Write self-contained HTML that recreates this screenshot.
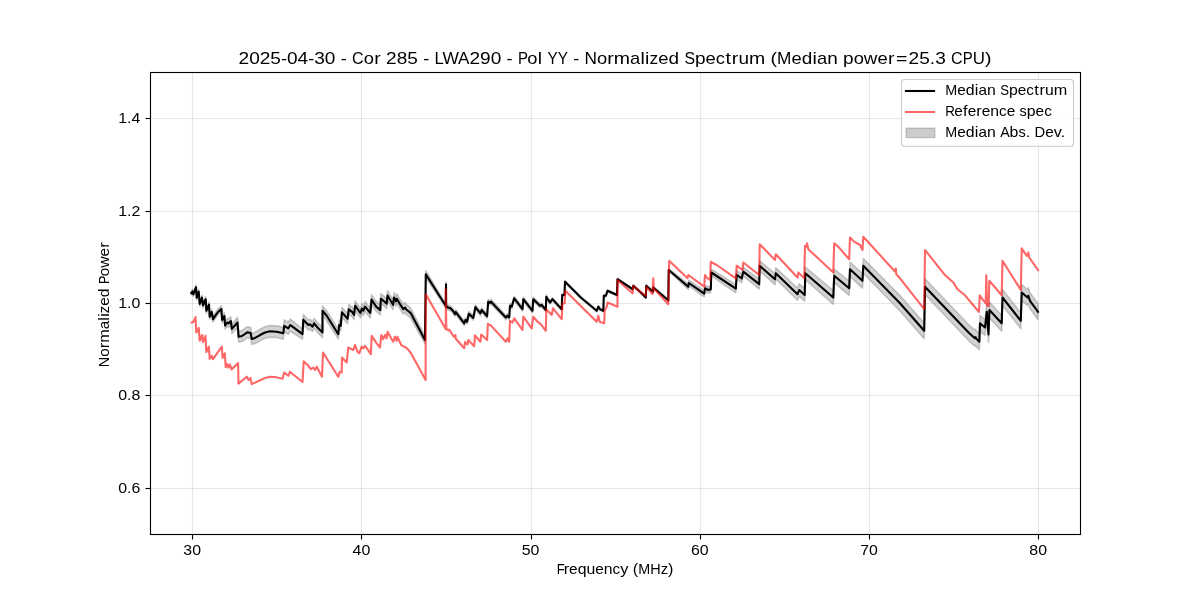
<!DOCTYPE html><html><head><meta charset="utf-8"><style>html,body{margin:0;padding:0;background:#fff;width:1200px;height:600px;overflow:hidden}svg{display:block;will-change:transform}</style></head><body><svg width="1200" height="600" viewBox="0 0 1200 600">
<rect width="1200" height="600" fill="#fff"/>
<line x1="192.50" y1="72.0" x2="192.50" y2="534.0" stroke="#b0b0b0" stroke-opacity="0.3" stroke-width="1.1"/>
<line x1="361.50" y1="72.0" x2="361.50" y2="534.0" stroke="#b0b0b0" stroke-opacity="0.3" stroke-width="1.1"/>
<line x1="531.50" y1="72.0" x2="531.50" y2="534.0" stroke="#b0b0b0" stroke-opacity="0.3" stroke-width="1.1"/>
<line x1="700.50" y1="72.0" x2="700.50" y2="534.0" stroke="#b0b0b0" stroke-opacity="0.3" stroke-width="1.1"/>
<line x1="869.50" y1="72.0" x2="869.50" y2="534.0" stroke="#b0b0b0" stroke-opacity="0.3" stroke-width="1.1"/>
<line x1="1038.50" y1="72.0" x2="1038.50" y2="534.0" stroke="#b0b0b0" stroke-opacity="0.3" stroke-width="1.1"/>
<line x1="150.0" y1="488.50" x2="1080.0" y2="488.50" stroke="#b0b0b0" stroke-opacity="0.3" stroke-width="1.1"/>
<line x1="150.0" y1="395.50" x2="1080.0" y2="395.50" stroke="#b0b0b0" stroke-opacity="0.3" stroke-width="1.1"/>
<line x1="150.0" y1="303.50" x2="1080.0" y2="303.50" stroke="#b0b0b0" stroke-opacity="0.3" stroke-width="1.1"/>
<line x1="150.0" y1="211.50" x2="1080.0" y2="211.50" stroke="#b0b0b0" stroke-opacity="0.3" stroke-width="1.1"/>
<line x1="150.0" y1="118.50" x2="1080.0" y2="118.50" stroke="#b0b0b0" stroke-opacity="0.3" stroke-width="1.1"/>
<path d="M191.3 291.0 L192.7 289.2 L193.3 292.2 L196.0 285.1 L196.7 295.4 L198.7 289.4 L199.7 301.7 L202.0 295.3 L203.0 302.9 L205.7 296.8 L206.3 308.1 L209.0 302.0 L209.7 314.0 L211.7 309.3 L213.0 316.6 L215.0 313.3 L218.0 309.1 L221.4 305.8 L222.1 316.6 L224.4 312.6 L225.1 321.9 L227.4 318.6 L228.9 319.1 L230.8 316.7 L231.9 324.4 L237.5 317.3 L238.6 331.4 L242.0 330.5 L247.3 326.7 L250.6 327.4 L251.8 333.4 L255.0 332.2 L259.7 329.6 L260.0 329.3 L265.0 326.8 L270.0 325.5 L276.7 325.8 L283.3 327.4 L284.2 319.9 L288.3 322.3 L290.3 319.0 L292.5 320.8 L302.5 329.0 L303.3 314.6 L308.3 320.0 L310.0 319.2 L312.5 321.7 L314.2 318.4 L317.5 322.6 L322.5 327.6 L322.5 305.9 L326.7 311.0 L338.3 329.4 L339.2 320.2 L340.8 321.0 L341.2 315.2 L342.0 307.6 L347.6 314.0 L348.8 304.4 L352.3 307.3 L354.0 309.9 L355.2 300.9 L360.4 308.2 L361.9 303.8 L363.3 305.8 L365.1 301.7 L370.3 308.1 L371.5 294.7 L376.2 301.7 L380.3 305.2 L380.8 293.8 L383.5 295.8 L386.7 298.8 L387.5 290.6 L393.1 299.9 L394.0 292.6 L396.0 296.4 L396.9 293.8 L400.0 299.2 L403.3 304.2 L405.0 302.5 L406.7 305.0 L409.2 306.7 L410.8 308.4 L425.0 336.2 L425.8 270.6 L440.0 294.2 L445.8 303.4 L446.0 281.7 L446.2 304.2 L450.4 305.9 L453.3 308.9 L455.0 311.8 L455.8 309.7 L464.2 321.0 L465.4 317.7 L467.1 319.3 L468.8 311.4 L473.3 315.6 L475.4 304.8 L480.4 311.1 L481.7 307.7 L487.1 314.0 L488.2 299.4 L490.0 300.7 L491.0 299.4 L505.8 315.3 L507.5 313.7 L509.2 315.4 L510.0 303.7 L511.7 304.5 L514.2 296.2 L522.5 307.1 L523.3 297.1 L532.5 308.8 L533.3 297.1 L540.0 303.8 L541.7 303.1 L545.8 308.3 L546.3 295.0 L546.7 295.8 L550.0 301.0 L552.5 297.8 L561.7 308.2 L562.2 294.0 L564.5 294.0 L565.0 280.7 L580.8 296.5 L596.7 309.8 L598.3 305.7 L600.0 308.2 L603.3 309.8 L603.8 294.8 L605.8 294.8 L607.5 289.8 L617.0 294.0 L617.5 278.2 L632.5 288.2 L633.3 284.8 L640.0 290.7 L645.8 296.5 L646.3 284.8 L653.0 290.7 L653.3 286.5 L668.3 299.3 L668.7 269.0 L688.3 283.9 L688.8 280.2 L704.2 290.6 L705.0 285.2 L708.3 286.8 L710.8 285.9 L711.3 269.2 L735.8 284.6 L736.7 270.5 L737.0 270.9 L741.7 274.0 L743.3 267.3 L759.2 279.2 L759.7 260.8 L775.0 273.7 L775.8 267.8 L797.5 288.0 L799.2 283.8 L804.7 288.7 L805.3 267.0 L833.3 290.7 L834.2 269.0 L849.2 281.2 L850.0 262.0 L862.5 273.5 L863.3 258.5 L900.0 295.6 L924.2 323.0 L925.0 278.8 L968.8 324.8 L974.8 330.2 L975.5 329.1 L976.4 330.8 L979.3 333.8 L980.0 315.4 L985.0 319.5 L986.8 303.8 L988.5 326.5 L989.4 302.0 L1001.7 315.3 L1002.5 289.5 L1020.8 312.8 L1021.7 284.5 L1027.5 289.5 L1028.3 287.8 L1030.0 292.8 L1038.0 303.7 L1038.0 319.7 L1030.0 308.8 L1028.3 303.8 L1027.5 305.5 L1021.7 300.5 L1020.8 328.8 L1002.5 305.5 L1001.7 331.3 L989.4 318.0 L988.5 342.5 L986.8 319.8 L985.0 335.5 L980.0 331.4 L979.3 349.8 L976.4 346.8 L975.5 345.1 L974.8 346.2 L968.8 340.8 L925.0 294.5 L924.2 338.7 L900.0 311.0 L863.3 273.2 L862.5 288.2 L850.0 276.3 L849.2 295.4 L834.2 282.7 L833.3 304.3 L805.3 279.6 L804.7 301.3 L799.2 296.2 L797.5 300.3 L775.8 278.9 L775.0 284.7 L759.7 270.8 L759.2 289.1 L743.3 276.0 L741.7 282.6 L737.0 279.1 L736.7 278.8 L735.8 292.8 L711.3 275.8 L710.8 292.4 L708.3 293.2 L705.0 291.5 L704.2 296.8 L688.8 285.8 L688.3 289.5 L668.7 271.0 L668.3 301.3 L653.3 288.5 L653.0 292.7 L646.3 286.8 L645.8 298.5 L640.0 292.7 L633.3 286.8 L632.5 290.2 L617.5 280.2 L617.0 296.0 L607.5 291.8 L605.8 296.8 L603.8 296.8 L603.3 311.8 L600.0 310.2 L598.3 307.7 L596.7 311.8 L580.8 298.5 L565.0 282.7 L564.5 296.0 L562.2 296.0 L561.7 310.2 L552.5 300.5 L550.0 304.0 L546.7 299.2 L546.3 298.4 L545.8 311.7 L541.7 306.9 L540.0 307.8 L533.3 301.2 L532.5 312.9 L523.3 301.2 L522.5 311.2 L514.2 300.5 L511.7 308.8 L510.0 308.0 L509.2 319.6 L507.5 318.0 L505.8 319.7 L491.0 303.9 L490.0 305.1 L488.2 303.9 L487.1 318.5 L481.7 312.3 L480.4 315.6 L475.4 309.4 L473.3 320.2 L468.8 316.1 L467.1 324.0 L465.4 322.3 L464.2 325.7 L455.8 314.5 L455.0 316.6 L453.3 313.6 L450.4 310.7 L446.2 309.1 L446.0 286.6 L445.8 308.3 L440.0 299.1 L425.8 277.7 L425.0 343.8 L410.8 318.3 L409.2 316.6 L406.7 315.0 L405.0 312.5 L403.3 314.1 L400.0 309.1 L396.9 303.7 L396.0 306.3 L394.0 302.5 L393.1 309.8 L387.5 300.4 L386.7 308.6 L383.5 305.7 L380.8 303.6 L380.3 315.0 L376.2 311.5 L371.5 304.5 L370.3 317.9 L365.1 311.4 L363.3 315.5 L361.9 313.5 L360.4 317.9 L355.2 310.5 L354.0 319.6 L352.3 317.0 L348.8 314.0 L347.6 323.7 L342.0 317.2 L341.2 324.8 L340.8 330.6 L339.2 329.8 L338.3 339.0 L326.7 320.7 L322.5 315.7 L322.5 337.4 L317.5 332.4 L314.2 328.3 L312.5 331.6 L310.0 329.1 L308.3 330.0 L303.3 324.8 L302.5 339.3 L292.5 332.5 L290.3 331.0 L288.3 334.3 L284.2 331.8 L283.3 339.3 L276.7 337.5 L270.0 337.1 L265.0 338.2 L260.0 340.7 L259.7 341.0 L255.0 343.5 L251.8 344.6 L250.6 338.6 L247.3 337.8 L242.0 341.5 L238.6 342.1 L237.5 327.7 L231.9 333.4 L230.8 325.3 L228.9 327.4 L227.4 326.4 L225.1 329.1 L224.4 319.7 L222.1 323.1 L221.4 312.2 L218.0 314.9 L215.0 319.0 L213.0 322.1 L211.7 314.7 L209.7 319.3 L209.0 307.3 L206.3 313.2 L205.7 301.9 L203.0 307.8 L202.0 300.1 L199.7 306.3 L198.7 294.0 L196.7 299.9 L196.0 289.5 L193.3 296.4 L192.7 293.4 L191.3 295.0 Z" fill="#808080" fill-opacity="0.35" stroke="#808080" stroke-opacity="0.4" stroke-width="1.6" stroke-linejoin="round"/>
<path d="M191.3 293.0 L192.7 291.3 L193.3 294.3 L196.0 287.3 L196.7 297.7 L198.7 291.7 L199.7 304.0 L202.0 297.7 L203.0 305.3 L205.7 299.3 L206.3 310.7 L209.0 304.7 L209.7 316.7 L211.7 312.0 L213.0 319.3 L215.0 316.1 L218.0 312.0 L221.4 309.0 L222.1 319.9 L224.4 316.1 L225.1 325.5 L227.4 322.5 L228.9 323.3 L230.8 321.0 L231.9 328.9 L237.5 322.5 L238.6 336.8 L242.0 336.0 L247.3 332.3 L250.6 333.0 L251.8 339.0 L255.0 337.9 L259.7 335.3 L260.0 335.0 L265.0 332.5 L270.0 331.3 L276.7 331.7 L283.3 333.3 L284.2 325.8 L288.3 328.3 L290.3 325.0 L292.5 326.7 L302.5 334.2 L303.3 319.7 L308.3 325.0 L310.0 324.2 L312.5 326.7 L314.2 323.3 L317.5 327.5 L322.5 332.5 L322.5 310.8 L326.7 315.8 L338.3 334.2 L339.2 325.0 L340.8 325.8 L341.2 320.0 L342.0 312.4 L347.6 318.8 L348.8 309.2 L352.3 312.1 L354.0 314.8 L355.2 305.7 L360.4 313.0 L361.9 308.6 L363.3 310.7 L365.1 306.6 L370.3 313.0 L371.5 299.6 L376.2 306.6 L380.3 310.1 L380.8 298.7 L383.5 300.8 L386.7 303.7 L387.5 295.5 L393.1 304.8 L394.0 297.5 L396.0 301.3 L396.9 298.7 L400.0 304.2 L403.3 309.2 L405.0 307.5 L406.7 310.0 L409.2 311.7 L410.8 313.3 L425.0 340.0 L425.8 274.2 L440.0 296.7 L445.8 305.8 L446.0 284.2 L446.2 306.7 L450.4 308.3 L453.3 311.2 L455.0 314.2 L455.8 312.1 L464.2 323.3 L465.4 320.0 L467.1 321.7 L468.8 313.8 L473.3 317.9 L475.4 307.1 L480.4 313.3 L481.7 310.0 L487.1 316.2 L488.2 301.7 L490.0 302.9 L491.0 301.7 L505.8 317.5 L507.5 315.8 L509.2 317.5 L510.0 305.8 L511.7 306.7 L514.2 298.3 L522.5 309.2 L523.3 299.2 L532.5 310.8 L533.3 299.2 L540.0 305.8 L541.7 305.0 L545.8 310.0 L546.3 296.7 L546.7 297.5 L550.0 302.5 L552.5 299.2 L561.7 309.2 L562.2 295.0 L564.5 295.0 L565.0 281.7 L580.8 297.5 L596.7 310.8 L598.3 306.7 L600.0 309.2 L603.3 310.8 L603.8 295.8 L605.8 295.8 L607.5 290.8 L617.0 295.0 L617.5 279.2 L632.5 289.2 L633.3 285.8 L640.0 291.7 L645.8 297.5 L646.3 285.8 L653.0 291.7 L653.3 287.5 L668.3 300.3 L668.7 270.0 L688.3 286.7 L688.8 283.0 L704.2 293.7 L705.0 288.3 L708.3 290.0 L710.8 289.2 L711.3 272.5 L735.8 288.7 L736.7 274.7 L737.0 275.0 L741.7 278.3 L743.3 271.7 L759.2 284.2 L759.7 265.8 L775.0 279.2 L775.8 273.3 L797.5 294.2 L799.2 290.0 L804.7 295.0 L805.3 273.3 L833.3 297.5 L834.2 275.8 L849.2 288.3 L850.0 269.2 L862.5 280.8 L863.3 265.8 L900.0 303.3 L924.2 330.8 L925.0 286.7 L968.8 332.8 L974.8 338.2 L975.5 337.1 L976.4 338.8 L979.3 341.8 L980.0 323.4 L985.0 327.5 L986.8 311.8 L988.5 334.5 L989.4 310.0 L1001.7 323.3 L1002.5 297.5 L1020.8 320.8 L1021.7 292.5 L1027.5 297.5 L1028.3 295.8 L1030.0 300.8 L1038.0 311.7" fill="none" stroke="#000" stroke-width="2.1" stroke-linejoin="round" stroke-linecap="square"/>
<path d="M191.8 322.5 L193.4 321.7 L194.2 320.4 L195.5 317.1 L196.3 332.5 L198.8 327.9 L199.7 340.8 L202.2 335.0 L203.0 342.1 L205.5 335.8 L206.3 352.1 L208.8 346.7 L209.7 358.8 L211.8 355.8 L213.0 359.2 L221.8 346.7 L222.6 357.9 L224.8 353.3 L225.7 367.1 L227.0 363.9 L228.4 367.6 L229.8 364.4 L231.6 369.4 L238.1 363.0 L238.5 383.6 L246.8 376.7 L248.6 380.0 L250.4 378.1 L251.8 384.1 L265.0 378.0 L270.0 376.7 L275.0 377.0 L282.5 378.7 L284.2 372.5 L288.3 375.8 L290.0 371.7 L291.7 373.3 L302.5 382.0 L303.7 361.3 L308.3 365.8 L310.8 369.2 L313.3 367.5 L315.0 370.0 L316.7 366.7 L322.0 376.7 L323.0 352.5 L338.3 376.7 L339.7 371.7 L341.7 372.5 L342.0 357.5 L346.7 362.5 L348.3 347.5 L353.3 350.0 L355.0 345.0 L357.5 351.7 L359.2 353.3 L361.7 346.7 L363.3 348.3 L365.0 345.8 L367.5 349.2 L370.8 354.2 L371.7 335.8 L376.7 343.3 L380.0 347.5 L381.3 335.0 L383.3 339.2 L385.0 335.0 L386.7 338.3 L387.5 331.7 L391.7 339.2 L393.3 341.7 L395.0 336.7 L396.7 340.8 L397.5 336.9 L401.2 345.0 L403.1 346.2 L405.0 346.9 L407.5 348.8 L410.6 352.5 L425.6 380.0 L425.8 294.2 L445.8 329.2 L445.8 289.2 L446.3 328.8 L448.3 330.4 L449.2 329.6 L453.8 336.7 L455.4 335.0 L455.8 338.8 L464.2 348.3 L465.0 342.1 L467.5 344.6 L468.3 340.0 L474.2 346.2 L475.0 335.4 L480.4 341.7 L481.2 334.6 L487.1 340.0 L487.9 323.8 L490.8 325.4 L505.8 341.7 L507.5 338.3 L509.2 341.7 L510.0 320.8 L512.5 322.5 L514.2 318.3 L522.5 330.0 L523.3 316.7 L531.7 328.3 L533.3 316.7 L537.5 321.7 L540.8 324.2 L545.8 330.8 L546.3 309.2 L551.7 315.0 L553.0 308.3 L561.7 319.2 L562.5 303.3 L564.7 303.3 L565.3 290.8 L596.7 321.7 L598.3 315.8 L599.7 321.7 L604.2 323.3 L604.7 310.8 L606.7 306.7 L607.5 302.5 L617.5 306.7 L617.5 280.0 L632.5 293.3 L633.3 285.8 L640.0 291.7 L645.8 295.8 L646.3 286.7 L652.5 294.2 L653.3 278.3 L653.7 288.3 L668.3 304.2 L669.2 260.8 L687.5 278.3 L688.3 275.0 L704.2 286.7 L705.0 275.0 L706.7 277.5 L710.0 280.0 L710.8 261.7 L713.3 263.3 L716.7 265.0 L735.8 278.3 L736.7 265.8 L737.0 265.8 L742.5 270.0 L743.3 262.5 L759.2 275.0 L759.7 244.2 L775.0 260.0 L775.8 254.2 L797.5 277.5 L798.3 272.5 L804.2 278.3 L805.0 245.8 L806.7 246.7 L807.0 243.3 L808.3 249.2 L833.3 272.5 L834.2 243.3 L838.3 246.7 L849.2 259.2 L850.0 237.5 L854.2 241.7 L860.0 245.0 L862.5 250.0 L863.3 236.7 L894.7 271.3 L895.8 268.7 L896.3 274.2 L900.0 278.3 L924.2 309.2 L925.0 250.0 L944.2 274.2 L953.3 282.5 L957.5 289.2 L965.0 295.3 L979.0 312.0 L979.7 295.3 L985.7 303.3 L986.3 275.3 L987.0 305.7 L988.7 306.0 L989.3 280.7 L1001.7 295.3 L1002.5 260.8 L1020.8 290.0 L1021.7 248.3 L1026.7 255.8 L1028.3 252.5 L1029.2 257.5 L1038.0 270.0" fill="none" stroke="#ff0000" stroke-opacity="0.6" stroke-width="2.1" stroke-linejoin="round" stroke-linecap="square"/>
<rect x="150.5" y="72.5" width="930" height="462" fill="none" stroke="#000" stroke-width="1.11" stroke-linejoin="miter"/>
<line x1="192.50" y1="534.5" x2="192.50" y2="539.5" stroke="#000" stroke-width="1.1"/>
<g transform="translate(183.37 555.00)" font-family='"Liberation Sans", sans-serif' font-size="14.139" fill="#000"><text transform="translate(0.00 0) scale(1.124 1)">3</text><text transform="translate(8.83 0) scale(1.124 1)">0</text></g>
<line x1="361.50" y1="534.5" x2="361.50" y2="539.5" stroke="#000" stroke-width="1.1"/>
<g transform="translate(352.57 555.00)" font-family='"Liberation Sans", sans-serif' font-size="14.139" fill="#000"><text transform="translate(0.00 0) scale(1.124 1)">4</text><text transform="translate(8.83 0) scale(1.124 1)">0</text></g>
<line x1="531.50" y1="534.5" x2="531.50" y2="539.5" stroke="#000" stroke-width="1.1"/>
<g transform="translate(521.77 555.00)" font-family='"Liberation Sans", sans-serif' font-size="14.139" fill="#000"><text transform="translate(0.00 0) scale(1.124 1)">5</text><text transform="translate(8.83 0) scale(1.124 1)">0</text></g>
<line x1="700.50" y1="534.5" x2="700.50" y2="539.5" stroke="#000" stroke-width="1.1"/>
<g transform="translate(690.97 555.00)" font-family='"Liberation Sans", sans-serif' font-size="14.139" fill="#000"><text transform="translate(0.00 0) scale(1.124 1)">6</text><text transform="translate(8.83 0) scale(1.124 1)">0</text></g>
<line x1="869.50" y1="534.5" x2="869.50" y2="539.5" stroke="#000" stroke-width="1.1"/>
<g transform="translate(860.17 555.00)" font-family='"Liberation Sans", sans-serif' font-size="14.139" fill="#000"><text transform="translate(0.00 0) scale(1.124 1)">7</text><text transform="translate(8.83 0) scale(1.124 1)">0</text></g>
<line x1="1038.50" y1="534.5" x2="1038.50" y2="539.5" stroke="#000" stroke-width="1.1"/>
<g transform="translate(1029.37 555.00)" font-family='"Liberation Sans", sans-serif' font-size="14.139" fill="#000"><text transform="translate(0.00 0) scale(1.124 1)">8</text><text transform="translate(8.83 0) scale(1.124 1)">0</text></g>
<line x1="145.5" y1="488.50" x2="150.5" y2="488.50" stroke="#000" stroke-width="1.1"/>
<g transform="translate(118.21 493.00)" font-family='"Liberation Sans", sans-serif' font-size="14.139" fill="#000"><text transform="translate(0.00 0) scale(1.124 1)">0</text><text transform="translate(8.83 0) scale(1.124 1)">.</text><text transform="translate(13.24 0) scale(1.124 1)">6</text></g>
<line x1="145.5" y1="395.50" x2="150.5" y2="395.50" stroke="#000" stroke-width="1.1"/>
<g transform="translate(118.21 400.00)" font-family='"Liberation Sans", sans-serif' font-size="14.139" fill="#000"><text transform="translate(0.00 0) scale(1.124 1)">0</text><text transform="translate(8.83 0) scale(1.124 1)">.</text><text transform="translate(13.24 0) scale(1.124 1)">8</text></g>
<line x1="145.5" y1="303.50" x2="150.5" y2="303.50" stroke="#000" stroke-width="1.1"/>
<g transform="translate(118.21 308.00)" font-family='"Liberation Sans", sans-serif' font-size="14.139" fill="#000"><text transform="translate(0.00 0) scale(1.124 1)">1</text><text transform="translate(8.83 0) scale(1.124 1)">.</text><text transform="translate(13.24 0) scale(1.124 1)">0</text></g>
<line x1="145.5" y1="211.50" x2="150.5" y2="211.50" stroke="#000" stroke-width="1.1"/>
<g transform="translate(118.21 216.00)" font-family='"Liberation Sans", sans-serif' font-size="14.139" fill="#000"><text transform="translate(0.00 0) scale(1.124 1)">1</text><text transform="translate(8.83 0) scale(1.124 1)">.</text><text transform="translate(13.24 0) scale(1.124 1)">2</text></g>
<line x1="145.5" y1="118.50" x2="150.5" y2="118.50" stroke="#000" stroke-width="1.1"/>
<g transform="translate(118.21 123.00)" font-family='"Liberation Sans", sans-serif' font-size="14.139" fill="#000"><text transform="translate(0.00 0) scale(1.124 1)">1</text><text transform="translate(8.83 0) scale(1.124 1)">.</text><text transform="translate(13.24 0) scale(1.124 1)">4</text></g>
<g transform="translate(238.52 63.80)" font-family='"Liberation Sans", sans-serif' font-size="16.967" fill="#000"><text transform="translate(0.00 0) scale(1.123 1)">2</text><text transform="translate(10.61 0) scale(1.123 1)">0</text><text transform="translate(21.23 0) scale(1.123 1)">2</text><text transform="translate(31.84 0) scale(1.123 1)">5</text><text transform="translate(42.46 0) scale(1.063 1)">-</text><text transform="translate(48.48 0) scale(1.123 1)">0</text><text transform="translate(59.09 0) scale(1.123 1)">4</text><text transform="translate(69.71 0) scale(1.063 1)">-</text><text transform="translate(75.73 0) scale(1.123 1)">3</text><text transform="translate(86.34 0) scale(1.123 1)">0</text><text transform="translate(102.26 0) scale(1.063 1)">-</text><text transform="translate(113.58 0) scale(0.949 1)">C</text><text transform="translate(125.23 0) scale(1.080 1)">o</text><text transform="translate(135.61 0) scale(1.150 1)">r</text><text transform="translate(147.60 0) scale(1.123 1)">2</text><text transform="translate(158.21 0) scale(1.123 1)">8</text><text transform="translate(168.83 0) scale(1.123 1)">5</text><text transform="translate(184.75 0) scale(1.063 1)">-</text><text transform="translate(196.07 0) scale(0.983 1)">L</text><text transform="translate(203.86 0) scale(1.028 1)">W</text><text transform="translate(219.48 0) scale(1.007 1)">A</text><text transform="translate(230.89 0) scale(1.123 1)">2</text><text transform="translate(241.50 0) scale(1.123 1)">9</text><text transform="translate(252.12 0) scale(1.123 1)">0</text><text transform="translate(268.03 0) scale(1.063 1)">-</text><text transform="translate(279.36 0) scale(0.887 1)">P</text><text transform="translate(288.79 0) scale(1.080 1)">o</text><text transform="translate(299.14 0) scale(1.150 1)">l</text><text transform="translate(308.94 0) scale(0.899 1)">Y</text><text transform="translate(319.13 0) scale(0.899 1)">Y</text><text transform="translate(334.62 0) scale(1.063 1)">-</text><text transform="translate(345.94 0) scale(1.017 1)">N</text><text transform="translate(358.42 0) scale(1.080 1)">o</text><text transform="translate(368.80 0) scale(1.150 1)">r</text><text transform="translate(375.24 0) scale(1.148 1)">m</text><text transform="translate(391.49 0) scale(1.081 1)">a</text><text transform="translate(401.86 0) scale(1.150 1)">l</text><text transform="translate(406.49 0) scale(1.150 1)">i</text><text transform="translate(410.98 0) scale(1.030 1)">z</text><text transform="translate(419.74 0) scale(1.086 1)">e</text><text transform="translate(430.00 0) scale(1.120 1)">d</text><text transform="translate(445.90 0) scale(0.934 1)">S</text><text transform="translate(456.49 0) scale(1.120 1)">p</text><text transform="translate(467.08 0) scale(1.086 1)">e</text><text transform="translate(477.34 0) scale(1.079 1)">c</text><text transform="translate(487.07 0) scale(1.150 1)">t</text><text transform="translate(493.23 0) scale(1.150 1)">r</text><text transform="translate(499.91 0) scale(1.118 1)">u</text><text transform="translate(510.49 0) scale(1.148 1)">m</text><text transform="translate(532.04 0) scale(1.150 1)">(</text><text transform="translate(538.55 0) scale(1.016 1)">M</text><text transform="translate(552.95 0) scale(1.086 1)">e</text><text transform="translate(563.21 0) scale(1.120 1)">d</text><text transform="translate(573.95 0) scale(1.150 1)">i</text><text transform="translate(578.43 0) scale(1.081 1)">a</text><text transform="translate(588.66 0) scale(1.118 1)">n</text><text transform="translate(604.53 0) scale(1.120 1)">p</text><text transform="translate(615.12 0) scale(1.080 1)">o</text><text transform="translate(625.33 0) scale(1.111 1)">w</text><text transform="translate(638.98 0) scale(1.086 1)">e</text><text transform="translate(649.41 0) scale(1.150 1)">r</text><text transform="translate(657.38 0) scale(1.150 1)">=</text><text transform="translate(670.08 0) scale(1.123 1)">2</text><text transform="translate(680.69 0) scale(1.123 1)">5</text><text transform="translate(691.31 0) scale(1.123 1)">.</text><text transform="translate(696.61 0) scale(1.123 1)">3</text><text transform="translate(712.53 0) scale(0.949 1)">C</text><text transform="translate(724.18 0) scale(0.887 1)">P</text><text transform="translate(734.24 0) scale(0.995 1)">U</text><text transform="translate(746.45 0) scale(1.150 1)">)</text></g>
<g transform="translate(556.67 574.00)" font-family='"Liberation Sans", sans-serif' font-size="14.139" fill="#000"><text transform="translate(0.00 0) scale(0.925 1)">F</text><text transform="translate(7.13 0) scale(1.150 1)">r</text><text transform="translate(12.44 0) scale(1.087 1)">e</text><text transform="translate(20.97 0) scale(1.121 1)">q</text><text transform="translate(29.78 0) scale(1.119 1)">u</text><text transform="translate(38.57 0) scale(1.087 1)">e</text><text transform="translate(47.11 0) scale(1.119 1)">n</text><text transform="translate(55.90 0) scale(1.080 1)">c</text><text transform="translate(63.58 0) scale(1.150 1)">y</text><text transform="translate(76.16 0) scale(1.150 1)">(</text><text transform="translate(81.57 0) scale(1.017 1)">M</text><text transform="translate(93.54 0) scale(1.023 1)">H</text><text transform="translate(103.97 0) scale(1.031 1)">z</text><text transform="translate(111.26 0) scale(1.150 1)">)</text></g>
<g transform="translate(108.51 367.18) rotate(-90)" font-family='"Liberation Sans", sans-serif' font-size="14.139" fill="#000"><text transform="translate(0.00 0) scale(1.018 1)">N</text><text transform="translate(10.38 0) scale(1.081 1)">o</text><text transform="translate(19.02 0) scale(1.150 1)">r</text><text transform="translate(24.32 0) scale(1.149 1)">m</text><text transform="translate(37.84 0) scale(1.082 1)">a</text><text transform="translate(46.46 0) scale(1.150 1)">l</text><text transform="translate(50.32 0) scale(1.150 1)">i</text><text transform="translate(54.05 0) scale(1.031 1)">z</text><text transform="translate(61.33 0) scale(1.087 1)">e</text><text transform="translate(69.87 0) scale(1.121 1)">d</text><text transform="translate(83.09 0) scale(0.888 1)">P</text><text transform="translate(90.96 0) scale(1.081 1)">o</text><text transform="translate(99.44 0) scale(1.112 1)">w</text><text transform="translate(110.79 0) scale(1.087 1)">e</text><text transform="translate(119.48 0) scale(1.150 1)">r</text></g>
<g>
<rect x="901.5" y="79.5" width="172" height="66.8" rx="3" ry="3" fill="#fff" fill-opacity="0.8" stroke="#cccccc" stroke-width="1.1"/>
<line x1="904.9" y1="91.0" x2="935.1" y2="91.0" stroke="#000" stroke-width="2.1"/>
<line x1="904.9" y1="112.0" x2="935.1" y2="112.0" stroke="#ff0000" stroke-opacity="0.6" stroke-width="2.1"/>
<rect x="906.1" y="128.3" width="28.7" height="9.3" fill="#808080" fill-opacity="0.4" stroke="#808080" stroke-opacity="0.4" stroke-width="1.39" stroke-linejoin="round"/>
</g>
<g transform="translate(945.25 94.80)" font-family='"Liberation Sans", sans-serif' font-size="14.139" fill="#000"><text transform="translate(0.00 0) scale(1.017 1)">M</text><text transform="translate(11.97 0) scale(1.087 1)">e</text><text transform="translate(20.51 0) scale(1.121 1)">d</text><text transform="translate(29.44 0) scale(1.150 1)">i</text><text transform="translate(33.17 0) scale(1.082 1)">a</text><text transform="translate(41.67 0) scale(1.119 1)">n</text><text transform="translate(54.88 0) scale(0.935 1)">S</text><text transform="translate(63.68 0) scale(1.121 1)">p</text><text transform="translate(72.49 0) scale(1.087 1)">e</text><text transform="translate(81.03 0) scale(1.080 1)">c</text><text transform="translate(89.12 0) scale(1.150 1)">t</text><text transform="translate(94.24 0) scale(1.150 1)">r</text><text transform="translate(99.80 0) scale(1.119 1)">u</text><text transform="translate(108.59 0) scale(1.149 1)">m</text></g>
<g transform="translate(945.25 115.90)" font-family='"Liberation Sans", sans-serif' font-size="14.139" fill="#000"><text transform="translate(0.00 0) scale(0.945 1)">R</text><text transform="translate(9.02 0) scale(1.087 1)">e</text><text transform="translate(17.74 0) scale(1.150 1)">f</text><text transform="translate(22.44 0) scale(1.087 1)">e</text><text transform="translate(31.12 0) scale(1.150 1)">r</text><text transform="translate(36.43 0) scale(1.087 1)">e</text><text transform="translate(44.96 0) scale(1.119 1)">n</text><text transform="translate(53.76 0) scale(1.080 1)">c</text><text transform="translate(61.39 0) scale(1.087 1)">e</text><text transform="translate(74.33 0) scale(1.024 1)">s</text><text transform="translate(81.56 0) scale(1.121 1)">p</text><text transform="translate(90.37 0) scale(1.087 1)">e</text><text transform="translate(98.91 0) scale(1.080 1)">c</text></g>
<g transform="translate(945.25 136.90)" font-family='"Liberation Sans", sans-serif' font-size="14.139" fill="#000"><text transform="translate(0.00 0) scale(1.017 1)">M</text><text transform="translate(11.97 0) scale(1.087 1)">e</text><text transform="translate(20.51 0) scale(1.121 1)">d</text><text transform="translate(29.44 0) scale(1.150 1)">i</text><text transform="translate(33.17 0) scale(1.082 1)">a</text><text transform="translate(41.67 0) scale(1.119 1)">n</text><text transform="translate(54.88 0) scale(1.007 1)">A</text><text transform="translate(64.37 0) scale(1.121 1)">b</text><text transform="translate(73.18 0) scale(1.024 1)">s</text><text transform="translate(80.40 0) scale(1.124 1)">.</text><text transform="translate(89.23 0) scale(1.047 1)">D</text><text transform="translate(99.91 0) scale(1.087 1)">e</text><text transform="translate(108.49 0) scale(1.150 1)">v</text><text transform="translate(115.53 0) scale(1.124 1)">.</text></g>
</svg></body></html>
